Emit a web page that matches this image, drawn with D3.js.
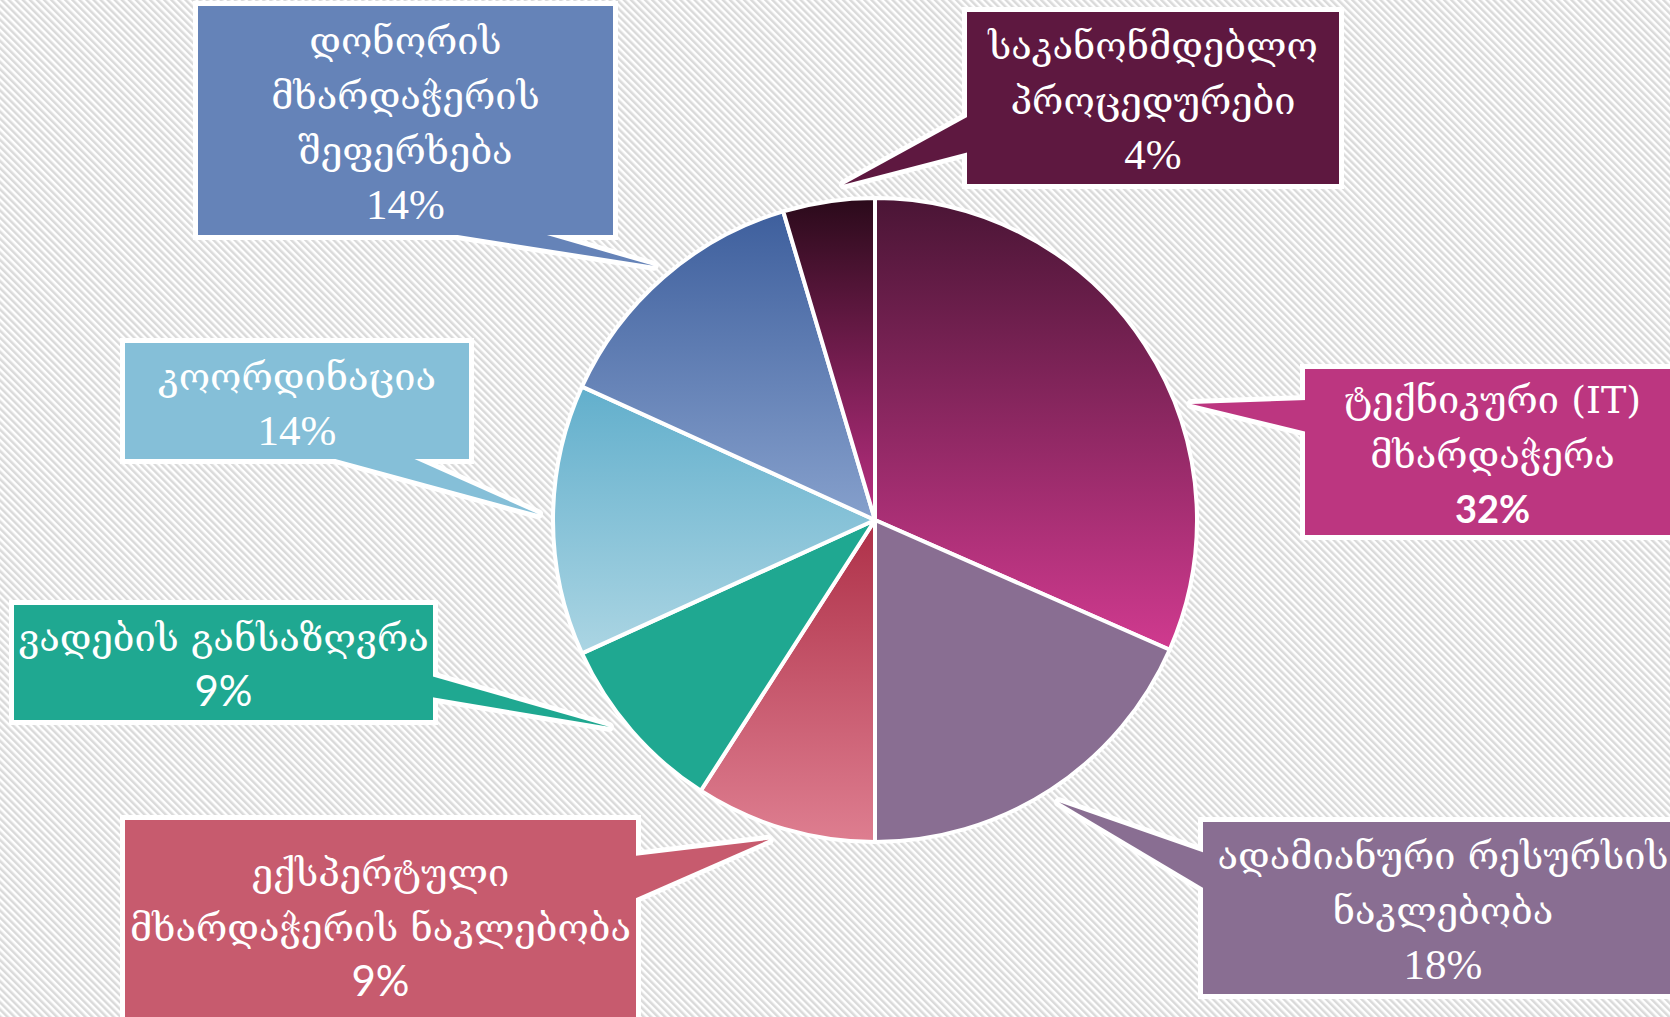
<!DOCTYPE html>
<html>
<head>
<meta charset="utf-8">
<script src="https://cdn.jsdelivr.net/npm/d3@7"></script>
<style>
  html, body { margin: 0; padding: 0; background: #fff; }
  svg { display: block; }
</style>
</head>
<body>
<svg id="chart" width="1670" height="1017"></svg>
<script>
// slices, clockwise from 12 o'clock
const categories = [
  ["ტექნიკური (IT)", "მხარდაჭერა"],
  ["ადამიანური რესურსის", "ნაკლებობა"],
  ["ექსპერტული", "მხარდაჭერის ნაკლებობა"],
  ["ვადების განსაზღვრა"],
  ["კოორდინაცია"],
  ["დონორის", "მხარდაჭერის", "შეფერხება"],
  ["საკანონმდებლო", "პროცედურები"]
];
const shares = [31.6, 18.4, 9.1, 9.1, 13.6, 13.6, 4.6];
const percentLabels = ["32%", "18%", "9%", "9%", "14%", "14%", "4%"];

// colours: callout fill, slice gradient top, slice gradient bottom
const boxColors = ["#bc3680", "#896e92", "#c75b6e", "#1fa891", "#85bfd8", "#6583b8", "#5e1840"];
const gradTop = ["#4a1535", "#896e92", "#ae3048", "#1fa891", "#62afcc", "#3e5f9d", "#2a0a1a"];
const gradBottom = ["#d03a8f", "#896e92", "#de7e90", "#1fa891", "#abd5e3", "#86a0cc", "#bb2f82"];

// callout boxes: rect, pointer base on one side, tip angle shift (deg), percent font
const callouts = [
  { x: 1305, y: 369, w: 375, h: 166, side: "left",   b: [400, 432], shift: 13, pct: "sansbold" },
  { x: 1203, y: 822, w: 480, h: 172, side: "left",   b: [853, 889], shift: 0,  pct: "serif" },
  { x: 125,  y: 820, w: 511, h: 210, side: "right",  b: [856, 899], shift: 2,  pct: "sans" },
  { x: 14,   y: 605, w: 419, h: 115, side: "right",  b: [676, 697], shift: 3,  pct: "sans" },
  { x: 125,  y: 343, w: 344, h: 116, side: "bottom", b: [328, 410], shift: 1,  pct: "serif" },
  { x: 198,  y: 6,   w: 415, h: 229, side: "bottom", b: [445, 540], shift: 0,  pct: "serif" },
  { x: 967,  y: 12,  w: 372, h: 172, side: "left",   b: [116, 152], shift: 3,  pct: "serif" }
];

const width = 1670, height = 1017;
const cx = 875, cy = 520, radius = 322, tipRadius = 337;
const lineGap = 55;

const svg = d3.select("#chart");
const defs = svg.append("defs");

// hatched background
const pat = defs.append("pattern")
  .attr("id", "hatch")
  .attr("patternUnits", "userSpaceOnUse")
  .attr("width", 5).attr("height", 5)
  .attr("patternTransform", "rotate(-45)");
pat.append("rect").attr("width", 5).attr("height", 5).attr("fill", "#ffffff");
pat.append("rect").attr("width", 2.5).attr("height", 5).attr("fill", "#dadada");
svg.append("rect").attr("width", width).attr("height", height).attr("fill", "url(#hatch)");

// one vertical gradient per slice (bounding box of the slice)
categories.forEach((c, i) => {
  const g = defs.append("linearGradient")
    .attr("id", "grad" + i)
    .attr("x1", 0).attr("y1", 0).attr("x2", 0).attr("y2", 1);
  g.append("stop").attr("offset", "0%").attr("stop-color", gradTop[i]);
  g.append("stop").attr("offset", "100%").attr("stop-color", gradBottom[i]);
});

const pie = d3.pie().sort(null).value(d => d)(shares);
const arc = d3.arc().innerRadius(0).outerRadius(radius);

const pieG = svg.append("g").attr("transform", `translate(${cx},${cy})`);
pieG.selectAll("path.slice")
  .data(pie)
  .enter()
  .append("path")
  .attr("class", "slice")
  .attr("d", arc)
  .attr("fill", (d, i) => `url(#grad${i})`)
  .attr("stroke", "#fff")
  .attr("stroke-width", 4)
  .attr("stroke-linejoin", "round");

// pointer triangle for a callout
function pointer(c, d) {
  const a = (d.startAngle + d.endAngle) / 2 + c.shift * Math.PI / 180;
  const tip = [cx + tipRadius * Math.sin(a), cy - tipRadius * Math.cos(a)];
  let p1, p2;
  if (c.side === "left") { p1 = [c.x + 2, c.b[0]]; p2 = [c.x + 2, c.b[1]]; }
  else if (c.side === "right") { p1 = [c.x + c.w - 2, c.b[0]]; p2 = [c.x + c.w - 2, c.b[1]]; }
  else { p1 = [c.b[0], c.y + c.h - 2]; p2 = [c.b[1], c.y + c.h - 2]; }
  return "M" + [p1, tip, p2].map(p => p.join(",")).join("L") + "Z";
}

const calloutG = svg.append("g");
const items = calloutG.selectAll("g.callout")
  .data(pie)
  .enter()
  .append("g")
  .attr("class", "callout");

// white outline first, then the fills on top
items.append("rect")
  .attr("x", (d, i) => callouts[i].x).attr("y", (d, i) => callouts[i].y)
  .attr("width", (d, i) => callouts[i].w).attr("height", (d, i) => callouts[i].h)
  .attr("fill", "#fff").attr("stroke", "#fff").attr("stroke-width", 10);
items.append("path")
  .attr("d", (d, i) => pointer(callouts[i], d))
  .attr("fill", "#fff").attr("stroke", "#fff").attr("stroke-width", 10)
  .attr("stroke-linejoin", "round");
items.append("rect")
  .attr("x", (d, i) => callouts[i].x).attr("y", (d, i) => callouts[i].y)
  .attr("width", (d, i) => callouts[i].w).attr("height", (d, i) => callouts[i].h)
  .attr("fill", (d, i) => boxColors[i]);
items.append("path")
  .attr("d", (d, i) => pointer(callouts[i], d))
  .attr("fill", (d, i) => boxColors[i]);

const pctFonts = {
  serif: { family: "'Liberation Serif', 'DejaVu Serif', serif", weight: "normal", size: 43 },
  sans: { family: "Lato, 'Open Sans', sans-serif", weight: "normal", size: 42 },
  sansbold: { family: "Lato, 'Open Sans', sans-serif", weight: "bold", size: 38 }
};

items.each(function (d, i) {
  const c = callouts[i];
  const lines = categories[i].concat([percentLabels[i]]);
  const mid = c.y + c.h / 2 + 3;
  const first = mid - (lines.length - 1) * lineGap / 2;
  const t = d3.select(this).append("text")
    .attr("text-anchor", "middle")
    .attr("fill", "#fff");
  lines.forEach((ln, k) => {
    const isPct = k === lines.length - 1;
    const f = pctFonts[c.pct];
    t.append("tspan")
      .attr("x", c.x + c.w / 2)
      .attr("y", first + k * lineGap + 13)
      .attr("font-family", isPct ? f.family : "'DejaVu Serif', 'DejaVu Sans', serif")
      .attr("font-weight", isPct ? f.weight : "normal")
      .attr("font-size", isPct ? f.size : 38)
      .text(ln);
  });
});
</script>
</body>
</html>
